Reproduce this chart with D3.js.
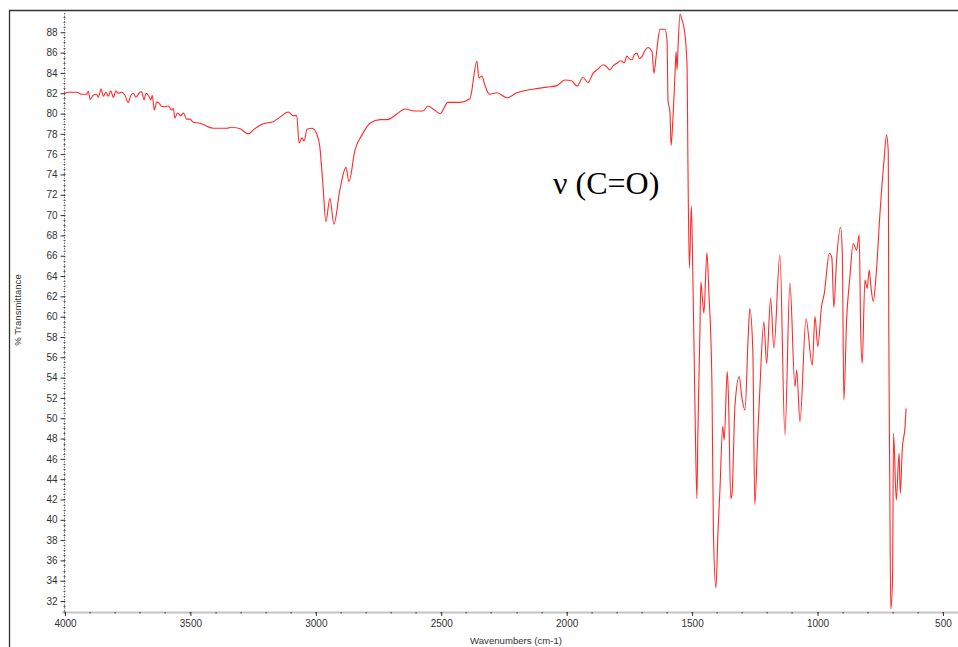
<!DOCTYPE html>
<html>
<head>
<meta charset="utf-8">
<script src="https://cdn.jsdelivr.net/npm/d3@7"></script>
<style>
  html, body { margin: 0; padding: 0; background: #fff; }
  svg { display: block; }
</style>
</head>
<body>
<svg id="chart" width="958" height="647"></svg>
<script>
// ---- data ----
const wavenumbers = [4000,3987,3953,3933,3914,3907,3900,3887,3874,3867,3856,3847,3837,3827,3818,3807,3797,3788,3774,3761,3748,3738,3728,3717,3704,3694,3685,3677,3668,3658,3652,3644,3634,3624,3615,3601,3588,3575,3568,3562,3552,3539,3528,3515,3502,3489,3462,3435,3409,3355,3336,3302,3269,3249,3210,3170,3143,3110,3090,3076,3067,3055,3047,3035,3015,2995,2984,2972,2960,2944,2928,2904,2880,2868,2844,2816,2784,2744,2716,2677,2645,2605,2573,2553,2530,2505,2473,2425,2386,2358,2350,2338,2326,2308,2278,2238,2198,2135,2079,2039,2007,1979,1959,1935,1915,1895,1875,1855,1840,1828,1815,1800,1785,1770,1760,1750,1740,1730,1720,1710,1700,1688,1676,1660,1652,1644,1636,1628,1608,1600,1596,1588,1584,1576,1568,1564,1560,1556,1548,1540,1529,1520,1517,1511,1503,1497,1489,1481,1477,1469,1465,1459,1453,1441,1433,1421,1415,1405,1397,1389,1378,1372,1360,1355,1346,1341,1329,1312,1302,1289,1277,1270,1258,1250,1238,1230,1214,1203,1187,1174,1150,1130,1110,1090,1083,1070,1046,1021,1010,999,984,973,953,943,935,924,908,901,895,884,871,858,844,834,828,822,811,802,794,787,778,765,751,735,725,718,716,712,708,701,697,686,675,670,662,651,647];
const transmittance = [82.0,82.1,82.1,81.9,81.9,82.2,81.4,81.8,81.9,81.6,82.4,81.7,82.1,81.7,82.25,81.6,82.25,82.0,82.1,81.8,81.1,81.75,82.0,81.6,82.05,82.15,81.35,82.0,81.8,81.35,81.8,80.35,81.15,81.0,80.7,80.7,80.75,80.35,80.5,79.55,80.05,79.8,80.05,79.45,79.45,79.15,79.05,78.75,78.55,78.55,78.65,78.5,78.0,78.4,79.0,79.2,79.65,80.15,79.8,79.8,77.1,77.6,77.3,78.45,78.55,77.9,76.7,73.1,69.35,71.65,69.1,72.5,74.7,73.3,76.4,77.9,79.05,79.4,79.4,79.95,80.45,80.25,80.25,80.75,80.4,80.0,81.1,81.1,81.45,85.15,83.5,83.7,82.8,81.9,82.05,81.55,82.05,82.4,82.6,82.75,83.3,83.2,82.7,83.55,83.05,83.95,84.4,84.8,84.6,84.3,84.7,84.95,85.2,85.0,85.65,85.4,85.3,85.8,85.95,85.4,85.6,86.2,86.5,86.1,83.95,85.5,87.25,88.3,88.3,87.2,81.3,80.05,76.85,79.7,84.0,86.1,84.3,86.6,89.8,89.2,87.9,84.6,76.1,64.8,70.9,64.0,51.8,42.1,48.5,58.4,63.4,61.8,60.35,66.3,62.3,53.45,38.7,33.3,38.7,43.0,49.2,47.85,54.6,52.0,42.1,42.5,51.3,54.1,52.1,50.8,57.7,60.8,56.7,41.5,48.5,52.8,59.5,55.4,61.8,56.9,66.1,48.35,63.3,53.1,54.75,49.65,59.8,55.2,60.0,57.05,61.0,62.3,66.25,65.8,60.9,65.6,68.8,66.0,51.8,59.7,63.9,67.2,66.55,68.05,58.7,55.4,63.6,62.8,64.6,62.95,61.5,64.6,70.2,75.4,77.9,76.25,59.0,43.9,31.2,34.05,48.5,41.95,46.55,42.6,47.0,49.2,50.95];
const yTickValues = [32,34,36,38,40,42,44,46,48,50,52,54,56,58,60,62,64,66,68,70,72,74,76,78,80,82,84,86,88];
const xTickValues = [4000,3500,3000,2500,2000,1500,1000,500];
const xTitle = "Wavenumbers (cm-1)";
const yTitle = "% Transmittance";
const annotation = "ν (C=O)";

// ---- layout ----
const svg = d3.select("#chart");
const x = d3.scaleLinear().domain([4000, 440]).range([65, 958]);
const y = d3.scaleLinear().domain([30.92, 89.9]).range([612, 13]);
const axisColor = "#333";
const font = "'Liberation Sans', Arial, sans-serif";

// outer frame
svg.append("line").attr("x1", 9).attr("x2", 958).attr("y1", 10.5).attr("y2", 10.5)
  .attr("stroke", "#333").attr("stroke-width", 1.3);
svg.append("line").attr("x1", 9.5).attr("x2", 9.5).attr("y1", 10).attr("y2", 647)
  .attr("stroke", "#333").attr("stroke-width", 1.3);

// y axis
const yAxisX = 64;
const yMinor = d3.range(31, 89.9, 0.5);
svg.append("line").attr("x1", yAxisX + 0.5).attr("x2", yAxisX + 0.5)
  .attr("y1", y.range()[1]).attr("y2", y.range()[0])
  .attr("stroke", "#777").attr("stroke-width", 1).attr("stroke-dasharray", "1.5,1.2");
svg.append("g").selectAll("line").data(yMinor).join("line")
  .attr("x1", yAxisX - 0.5).attr("x2", yAxisX + 1.5)
  .attr("y1", d => Math.round(y(d)) + 0.5).attr("y2", d => Math.round(y(d)) + 0.5)
  .attr("stroke", "#555").attr("stroke-width", 1);
const yAxis = d3.axisLeft(y).tickValues(yTickValues).tickSize(4).tickPadding(3).tickFormat(d3.format("d"));
const gy = svg.append("g").attr("transform", `translate(${yAxisX + 0.5},0)`).call(yAxis);
gy.select(".domain").remove();
gy.selectAll(".tick line").attr("stroke", axisColor);
gy.selectAll(".tick text").attr("fill", "#333").style("font-family", font).style("font-size", "10px");

// x axis
const xAxisY = 612;
svg.append("line").attr("x1", 62).attr("x2", 958).attr("y1", xAxisY + 0.5).attr("y2", xAxisY + 0.5)
  .attr("stroke", "#c4c4c4").attr("stroke-width", 2.2);
const xMinor = d3.range(4000, 440, -100);
svg.append("g").selectAll("rect").data(xMinor).join("rect")
  .attr("x", d => Math.round(x(d)) - 0.5).attr("y", xAxisY).attr("width", 1.2).attr("height", 1.5)
  .attr("fill", "#444");
const xAxis = d3.axisBottom(x).tickValues(xTickValues).tickSize(4).tickPadding(4).tickFormat(d3.format("d"));
const gx = svg.append("g").attr("transform", `translate(0,${xAxisY})`).call(xAxis);
gx.select(".domain").remove();
gx.selectAll(".tick line").attr("stroke", axisColor);
gx.selectAll(".tick text").attr("fill", "#333").style("font-family", font).style("font-size", "10px");

// axis titles
svg.append("text").attr("x", 516).attr("y", 644).attr("text-anchor", "middle")
  .attr("fill", "#333").style("font-family", font).style("font-size", "9.6px").text(xTitle);
svg.append("text").attr("transform", "translate(21,310) rotate(-90)").attr("text-anchor", "middle")
  .attr("fill", "#333").style("font-family", font).style("font-size", "9.6px").text(yTitle);

// spectrum
const pts = wavenumbers.map((w, i) => [w, transmittance[i]]);
const line = d3.line().x(d => x(d[0])).y(d => y(d[1])).curve(d3.curveMonotoneX);
svg.append("path").datum(pts).attr("d", line)
  .attr("fill", "none").attr("stroke", "#ff2a2a").attr("stroke-width", 1.1)
  .attr("stroke-linejoin", "miter");

// annotation
svg.append("text").attr("x", 553).attr("y", 194)
  .style("font-family", "'Liberation Serif', 'Times New Roman', serif").style("font-size", "32px")
  .attr("fill", "#000").text(annotation);
</script>
</body>
</html>
